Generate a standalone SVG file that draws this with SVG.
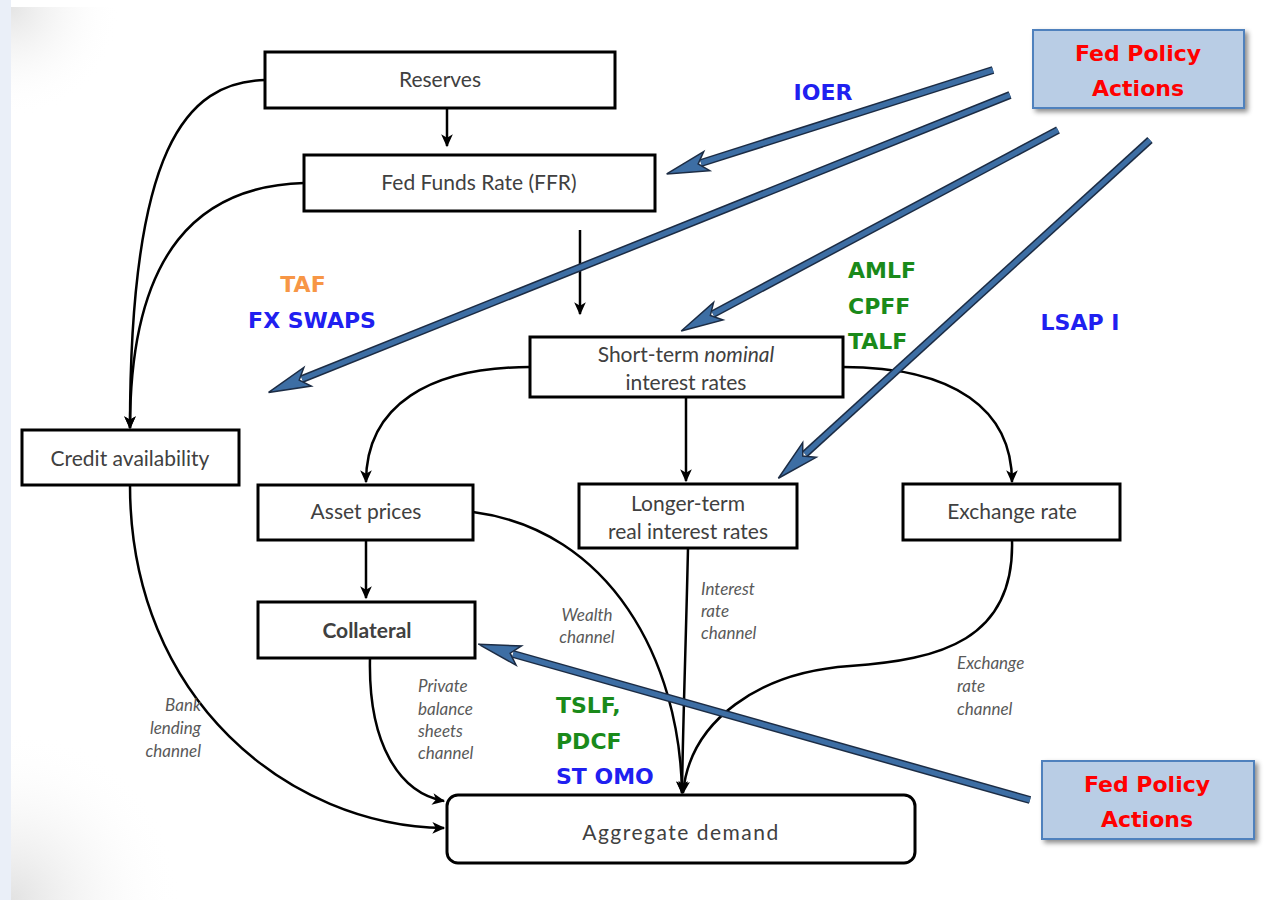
<svg xmlns="http://www.w3.org/2000/svg" width="1265" height="900" viewBox="0 0 1265 900">
<defs>
<style>
.box{fill:#fff;stroke:#000;stroke-width:3}
.nt{font-family:Lato,"Open Sans",sans-serif;font-size:21px;fill:#404040;text-anchor:middle}
.conn{fill:none;stroke:#000;stroke-width:2.5}
.ch{font-family:Lato,"Open Sans",sans-serif;font-size:17px;font-style:italic;fill:#595959}
.lbl{font-family:"DejaVu Sans",Verdana,sans-serif;font-weight:bold;font-size:22px}
.blue{fill:#2020f0}.green{fill:#1a8a1a}.orange{fill:#f79646}
.fed{fill:#b9cde5;stroke:#4f81bd;stroke-width:2}
.fedt{font-family:"DejaVu Sans",Verdana,sans-serif;font-weight:bold;font-size:22px;fill:#ff0000;text-anchor:middle}
.bo{fill:none;stroke:#1c2c44;stroke-width:8;stroke-linecap:butt}
.bi{fill:none;stroke:#3d6ea4;stroke-width:5}
</style>
<marker id="ah" markerUnits="userSpaceOnUse" markerWidth="14" markerHeight="14" refX="10" refY="5" orient="auto" viewBox="0 0 12 10" overflow="visible">
<path d="M0,0 L11,5 L0,10 L3,5 Z" fill="#000"/>
</marker>
<marker id="bh" markerUnits="userSpaceOnUse" markerWidth="50" markerHeight="30" refX="0" refY="0" orient="auto" viewBox="-10 -15 50 30" overflow="visible">
<path d="M36,0 L-6,-10 L3,0 L-6,10 Z" fill="#3d6ea4" stroke="#1c2c44" stroke-width="1.5" stroke-linejoin="miter"/>
</marker>
<filter id="sh" x="-10%" y="-10%" width="130%" height="140%">
<feDropShadow dx="3" dy="3" stdDeviation="2.5" flood-color="#000" flood-opacity="0.45"/>
</filter>
<radialGradient id="gtl" cx="11" cy="7" r="110" gradientUnits="userSpaceOnUse">
<stop offset="0" stop-color="#e4e4e4"/><stop offset="1" stop-color="#fff" stop-opacity="0"/>
</radialGradient>
<radialGradient id="gbl" cx="11" cy="900" r="170" gradientUnits="userSpaceOnUse">
<stop offset="0" stop-color="#e2e2e2"/><stop offset="1" stop-color="#fff" stop-opacity="0"/>
</radialGradient>
</defs>
<rect x="0" y="0" width="1265" height="900" fill="#fff"/>
<rect x="11" y="7" width="120" height="120" fill="url(#gtl)"/>
<rect x="11" y="720" width="180" height="180" fill="url(#gbl)"/>
<rect x="0" y="0" width="11" height="900" fill="#eaeff8"/>

<g id="connectors">
<line class="conn" x1="447" y1="108" x2="447" y2="146" marker-end="url(#ah)"/>
<line class="conn" x1="580" y1="230" x2="580" y2="314" marker-end="url(#ah)"/>
<path class="conn" d="M265,80 C185,82 130,150 130,428" marker-end="url(#ah)"/>
<path class="conn" d="M304,183 C200,186 130,250 130,428" marker-end="url(#ah)"/>
<line class="conn" x1="686" y1="397" x2="686" y2="481" marker-end="url(#ah)"/>
<path class="conn" d="M530,367 C430,367 366,405 366,482" marker-end="url(#ah)"/>
<path class="conn" d="M843,367 C955,367 1012,410 1012,482" marker-end="url(#ah)"/>
<line class="conn" x1="366" y1="540" x2="366" y2="598" marker-end="url(#ah)"/>
<path class="conn" d="M473,512 C610,530 680,660 682,793" marker-end="url(#ah)"/>
<path class="conn" d="M688,548 C686,640 683,720 682,793" marker-end="url(#ah)"/>
<path class="conn" d="M1012,540 C1015,640 940,660 850,666 C760,672 690,720 683,793" marker-end="url(#ah)"/>
<path class="conn" d="M370,658 C368,745 400,793 444,801" marker-end="url(#ah)"/>
<path class="conn" d="M130,485 C130,700 290,826 444,828" marker-end="url(#ah)"/>
</g>

<g id="policy-arrows">
<line class="bo" x1="993" y1="70" x2="701" y2="163"/>
<line class="bi" x1="993" y1="70" x2="701" y2="163" marker-end="url(#bh)"/>
<line class="bo" x1="1010" y1="95" x2="302" y2="379"/>
<line class="bi" x1="1010" y1="95" x2="302" y2="379" marker-end="url(#bh)"/>
<line class="bo" x1="1058" y1="130" x2="713" y2="314"/>
<line class="bi" x1="1058" y1="130" x2="713" y2="314" marker-end="url(#bh)"/>
<line class="bo" x1="1150" y1="140" x2="805" y2="454"/>
<line class="bi" x1="1150" y1="140" x2="805" y2="454" marker-end="url(#bh)"/>
<line class="bo" x1="1030" y1="800" x2="513" y2="654"/>
<line class="bi" x1="1030" y1="800" x2="513" y2="654" marker-end="url(#bh)"/>
</g>

<g id="reserves"><rect class="box" x="265" y="52" width="350" height="56"/><text class="nt" x="440" y="87">Reserves</text></g>
<g id="ffr"><rect class="box" x="304" y="155" width="351" height="56"/><text class="nt" x="479" y="190">Fed Funds Rate (FFR)</text></g>
<g id="short-term"><rect class="box" x="530" y="337" width="313" height="60"/><text class="nt" x="686" y="362">Short-term <tspan font-style="italic">nominal</tspan></text><text class="nt" x="686" y="390">interest rates</text></g>
<g id="credit"><rect class="box" x="22" y="430" width="217" height="55"/><text class="nt" x="130" y="466">Credit availability</text></g>
<g id="asset"><rect class="box" x="258" y="485" width="215" height="55"/><text class="nt" x="366" y="519">Asset prices</text></g>
<g id="longer-term"><rect class="box" x="579" y="484" width="218" height="64"/><text class="nt" x="688" y="511">Longer-term</text><text class="nt" x="688" y="539">real interest rates</text></g>
<g id="exchange"><rect class="box" x="903" y="484" width="217" height="56"/><text class="nt" x="1012" y="519">Exchange rate</text></g>
<g id="collateral"><rect class="box" x="258" y="602" width="217" height="56"/><text class="nt" x="367" y="638" font-weight="bold" fill="#000">Collateral</text></g>
<g id="aggregate"><rect class="box" x="447" y="795" width="468" height="68" rx="11"/><text class="nt" x="681" y="840" font-size="29" letter-spacing="1.5">Aggregate demand</text></g>

<g id="fed-top"><rect class="fed" x="1033" y="30" width="211" height="78" filter="url(#sh)"/><text class="fedt" x="1138" y="61">Fed Policy</text><text class="fedt" x="1138" y="96">Actions</text></g>
<g id="fed-bottom"><rect class="fed" x="1042" y="761" width="212" height="78" filter="url(#sh)"/><text class="fedt" x="1147" y="792">Fed Policy</text><text class="fedt" x="1147" y="827">Actions</text></g>

<g id="labels">
<text class="lbl blue" x="823" y="100" text-anchor="middle">IOER</text>
<text class="lbl orange" x="303" y="292" text-anchor="middle">TAF</text>
<text class="lbl blue" x="312" y="328" text-anchor="middle">FX SWAPS</text>
<text class="lbl green" x="848" y="278">AMLF</text>
<text class="lbl green" x="848" y="314">CPFF</text>
<text class="lbl green" x="848" y="349">TALF</text>
<text class="lbl blue" x="1080" y="330" text-anchor="middle">LSAP I</text>
<text class="lbl green" x="556" y="713">TSLF,</text>
<text class="lbl green" x="556" y="749">PDCF</text>
<text class="lbl blue" x="556" y="784">ST OMO</text>
</g>

<g id="channel-labels">
<text class="ch" x="201" y="711" text-anchor="end">Bank</text>
<text class="ch" x="201" y="734" text-anchor="end">lending</text>
<text class="ch" x="201" y="757" text-anchor="end">channel</text>
<text class="ch" x="418" y="692">Private</text>
<text class="ch" x="418" y="715">balance</text>
<text class="ch" x="418" y="737">sheets</text>
<text class="ch" x="418" y="759">channel</text>
<text class="ch" x="587" y="621" text-anchor="middle">Wealth</text>
<text class="ch" x="587" y="643" text-anchor="middle">channel</text>
<text class="ch" x="701" y="595">Interest</text>
<text class="ch" x="701" y="617">rate</text>
<text class="ch" x="701" y="639">channel</text>
<text class="ch" x="957" y="669">Exchange</text>
<text class="ch" x="957" y="692">rate</text>
<text class="ch" x="957" y="715">channel</text>
</g>
</svg>
